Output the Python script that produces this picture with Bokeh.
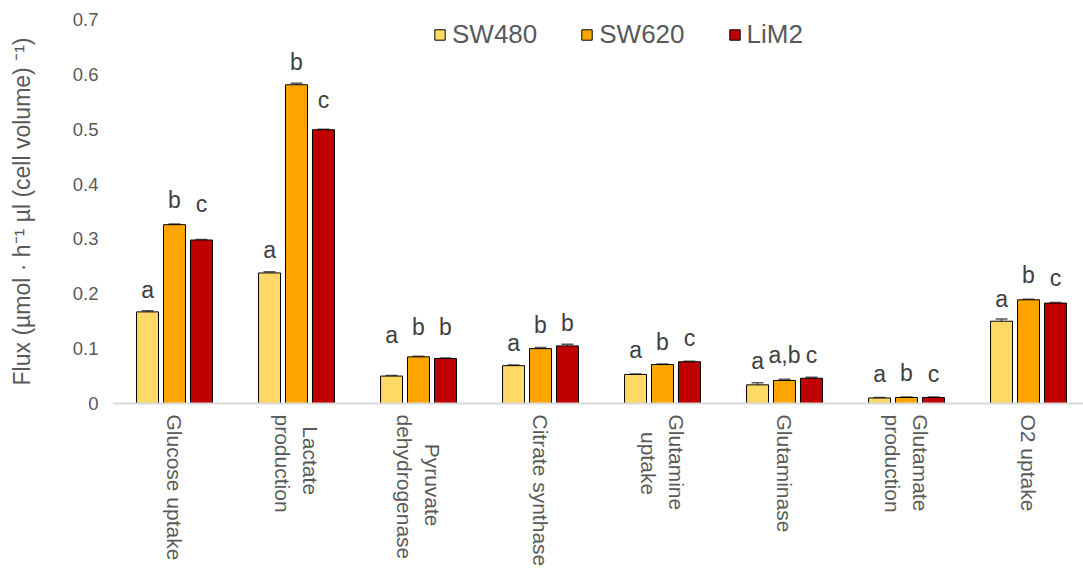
import numpy as np
from bokeh.plotting import figure
from bokeh.models import (Range1d, FixedTicker, Legend, LegendItem, Whisker, TeeHead,
                          ColumnDataSource)
from bokeh.core.properties import value
from bokeh.embed import file_html
from bokeh.resources import INLINE

# ---------------- data ----------------
categories = ["Glucose uptake", "Lactate\nproduction", "Pyruvate\ndehydrogenase",
              "Citrate synthase", "Glutamine\nuptake", "Glutaminase",
              "Glutamate\nproduction", "O2 uptake"]
series = ["SW480", "SW620", "LiM2"]
sw480 = [0.167, 0.238, 0.050, 0.069, 0.053, 0.034, 0.010, 0.150]
sw620 = [0.326, 0.581, 0.085, 0.100, 0.071, 0.042, 0.011, 0.189]
lim2 = [0.298, 0.499, 0.082, 0.105, 0.076, 0.046, 0.011, 0.183]
sw480_err = [0.002, 0.002, 0.001, 0.001, 0.001, 0.004, 0.001, 0.004]
sw620_err = [0.001, 0.003, 0.001, 0.002, 0.001, 0.002, 0.001, 0.001]
lim2_err = [0.001, 0.001, 0.001, 0.003, 0.001, 0.002, 0.001, 0.001]
sw480_letters = ["a", "a", "a", "a", "a", "a", "a", "a"]
sw620_letters = ["b", "b", "b", "b", "b", "a,b", "b", "b"]
lim2_letters = ["c", "c", "b", "b", "c", "c", "c", "c"]
sw480_letter_y = [0.207, 0.280, 0.124, 0.110, 0.097, 0.077, 0.053, 0.191]
sw620_letter_y = [0.371, 0.622, 0.139, 0.144, 0.112, 0.089, 0.055, 0.235]
lim2_letter_y = [0.364, 0.553, 0.139, 0.147, 0.120, 0.089, 0.053, 0.228]
y_ticks = [0, 0.1, 0.2, 0.3, 0.4, 0.5, 0.6, 0.7]
y_tick_labels = ["0", "0.1", "0.2", "0.3", "0.4", "0.5", "0.6", "0.7"]

# ---------------- style ----------------
FONT = "Liberation Sans"
TXT = "#595959"
colors = ["#FFD966", "#FFA500", "#C00000"]
offsets = [-0.221, 0.0, 0.221]
bar_w = 0.18

W, H = 1083, 569
BL, BR, BT, BB = 113, 0, 19, 165
frame_w = W - BL - BR
frame_h = H - BT - BB
px_per_group = 122.0
x_start = -0.5
x_end = x_start + frame_w / px_per_group

p = figure(width=W, height=H, output_backend="svg", toolbar_location=None,
           x_range=Range1d(x_start, x_end), y_range=Range1d(0, 0.7),
           min_border_left=BL, min_border_right=BR, min_border_top=BT,
           min_border_bottom=BB)
p.outline_line_color = None
p.grid.visible = False
p.background_fill_color = "white"
p.border_fill_color = "white"

# y axis
ya = p.yaxis[0]
ya.ticker = FixedTicker(ticks=y_ticks)
ya.major_label_overrides = {t: l for t, l in zip(y_ticks, y_tick_labels)}
ya.axis_line_color = None
ya.major_tick_line_color = None
ya.minor_tick_line_color = None
ya.major_tick_out = 0
ya.minor_tick_out = 0
ya.major_label_text_font = FONT
ya.major_label_text_font_size = "18.5px"
ya.major_label_text_color = TXT
ya.major_label_standoff = 15
ya.axis_label = "Flux (\u00b5mol \u00b7 h\u207b\u00b9 \u00b5l (cell volume) \u207b\u00b9)"
ya.axis_label_text_font = FONT
ya.axis_label_text_font_size = "23px"
ya.axis_label_text_font_style = "normal"
ya.axis_label_text_color = TXT
ya.axis_label_standoff = 35

# category labels on the x axis: rotated, lines centred with no-break spaces
arial = {" ": 278, "a": 556, "c": 500, "d": 556, "e": 556, "g": 556, "h": 556, "i": 222,
         "k": 500, "l": 222, "m": 833, "n": 556, "o": 556, "p": 556, "r": 333, "s": 500,
         "t": 278, "u": 556, "v": 500, "y": 500, "C": 722, "G": 778, "L": 556, "O": 778,
         "P": 667, "S": 667, "2": 556}


def centred(label):
    lines = label.split("\n")
    widths = [sum(arial.get(ch, 556) for ch in ln) for ln in lines]
    wmax = max(widths)
    out = []
    for ln, w in zip(lines, widths):
        n = int(round((wmax - w) / 2.0 / 278.0))
        out.append("\u00a0" * n + ln)
    return "\n".join(out)


idx = np.arange(len(categories))
xa = p.xaxis[0]
xa.ticker = FixedTicker(ticks=list(range(len(categories))))
xa.major_label_overrides = {i: centred(c) for i, c in enumerate(categories)}
xa.major_label_orientation = -np.pi / 2
xa.axis_line_color = "#D9D9D9"
xa.axis_line_width = 2
xa.major_tick_line_color = None
xa.minor_tick_line_color = None
xa.major_tick_out = 0
xa.major_tick_in = 0
xa.minor_tick_out = 0
xa.minor_tick_in = 0
xa.major_label_text_font = FONT
xa.major_label_text_font_size = "21px"
xa.major_label_text_color = TXT
xa.major_label_text_line_height = 1.25
xa.major_label_standoff = 11

vals = [sw480, sw620, lim2]
errs = [sw480_err, sw620_err, lim2_err]
letters = [sw480_letters, sw620_letters, lim2_letters]
letter_ys = [sw480_letter_y, sw620_letter_y, lim2_letter_y]

items = []
for k in range(3):
    v = np.array(vals[k])
    e = np.array(errs[k])
    src = ColumnDataSource(dict(x=idx + offsets[k], top=v, upper=v + e, lower=v - e,
                                lab=letters[k], ly=letter_ys[k]))
    r = p.vbar(x="x", top="top", width=bar_w, source=src, fill_color=colors[k],
               line_color="#000000", line_width=1)
    items.append(LegendItem(label=series[k], renderers=[r]))
    wh = Whisker(base="x", upper="upper", lower="lower", source=src,
                 line_color="#595959", line_width=1.5,
                 upper_head=TeeHead(size=12, line_color="#595959", line_width=1.5),
                 lower_head=TeeHead(size=12, line_color="#595959", line_width=1.5))
    p.add_layout(wh)
    p.text(x="x", y="ly", text="lab", source=src, text_font=value(FONT),
           text_font_size="23px", text_color="#404040", text_align="center",
           text_baseline="middle")

legend = Legend(items=items, orientation="horizontal", location=(320, 353),
                glyph_width=13, glyph_height=13, label_standoff=6, spacing=43,
                padding=0, margin=0, border_line_alpha=0, background_fill_alpha=0,
                label_text_font=FONT, label_text_font_size="26px",
                label_text_color=TXT)
p.add_layout(legend)

open("out.html", "w").write(file_html(p, INLINE))
